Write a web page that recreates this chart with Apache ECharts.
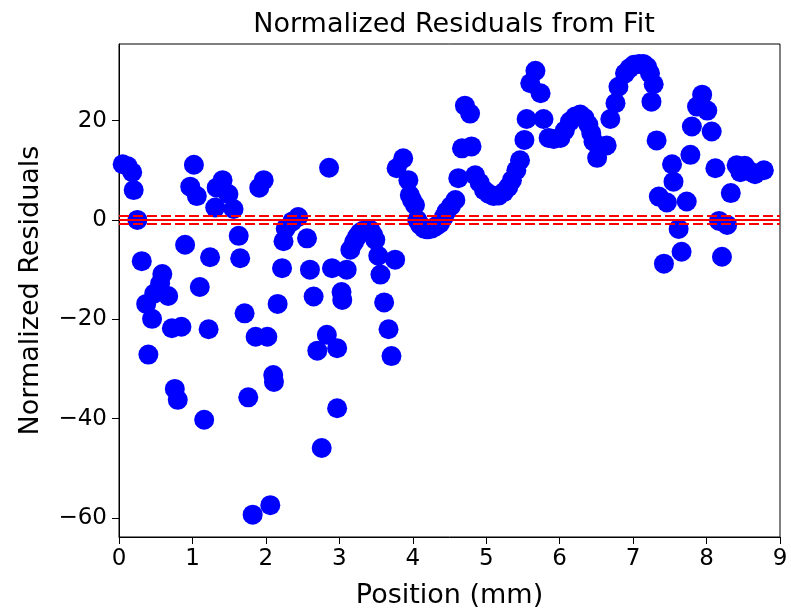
<!DOCTYPE html>
<html>
<head>
<meta charset="utf-8">
<script src="https://cdn.jsdelivr.net/npm/echarts@6/dist/echarts.min.js"></script>
<style>html,body{margin:0;padding:0;background:#fff;}#chart{width:791px;height:610px;}</style>
</head>
<body>
<div id="chart"></div>
<script>
var positionMm = [0.05,0.12,0.18,0.20,0.25,0.31,0.37,0.40,0.45,0.48,0.56,0.59,0.67,0.72,0.76,0.80,0.85,0.90,0.97,1.02,1.06,1.10,1.16,1.22,1.24,1.31,1.33,1.41,1.49,1.56,1.63,1.65,1.71,1.76,1.82,1.86,1.91,1.97,2.02,2.06,2.10,2.11,2.16,2.22,2.24,2.27,2.36,2.44,2.56,2.60,2.65,2.70,2.76,2.83,2.86,2.90,2.97,2.97,3.03,3.04,3.10,3.15,3.20,3.24,3.28,3.32,3.37,3.42,3.46,3.49,3.53,3.56,3.61,3.67,3.71,3.76,3.78,3.87,3.94,3.96,3.99,4.03,4.06,4.10,4.15,4.20,4.26,4.31,4.37,4.42,4.46,4.52,4.58,4.62,4.67,4.71,4.78,4.80,4.85,4.91,4.97,5.03,5.10,5.17,5.24,5.30,5.35,5.41,5.46,5.52,5.55,5.60,5.67,5.74,5.78,5.85,5.92,6.01,6.07,6.14,6.21,6.28,6.34,6.39,6.43,6.46,6.51,6.64,6.69,6.76,6.80,6.89,6.95,7.01,7.08,7.14,7.19,7.23,7.25,7.28,7.32,7.35,7.42,7.46,7.53,7.55,7.62,7.66,7.73,7.78,7.80,7.87,7.94,8.01,8.07,8.12,8.17,8.21,8.28,8.33,8.41,8.46,8.52,8.60,8.66,8.78];
var residuals = [11.2,10.8,9.6,6.0,0.0,-8.3,-16.9,-27.1,-19.9,-14.8,-12.8,-10.9,-15.3,-21.8,-34.0,-36.2,-21.5,-5.0,6.7,11.1,4.8,-13.5,-40.2,-22.0,-7.5,2.5,6.5,8.0,5.2,2.2,-3.2,-7.7,-18.8,-35.7,-59.3,-23.5,6.5,8.0,-23.5,-57.4,-31.2,-32.6,-16.9,-9.7,-4.3,-1.7,-0.3,0.6,-3.7,-10.0,-15.4,-26.3,-45.9,-23.1,10.5,-9.7,-25.8,-37.9,-14.5,-16.1,-10.0,-6.0,-4.5,-3.4,-2.6,-2.2,-2.0,-2.0,-3.0,-4.0,-7.2,-11.0,-16.6,-22.0,-27.4,-8.0,10.4,12.4,8.0,5.0,4.0,3.0,0.0,-1.0,-1.7,-1.9,-1.7,-1.3,-0.7,0.5,1.7,2.8,4.0,8.4,14.4,23.0,21.4,14.8,9.0,7.5,6.0,5.3,4.8,4.9,5.6,6.6,8.0,10.0,12.0,16.1,20.3,27.5,30.0,25.5,20.3,16.5,16.3,16.5,18.0,19.8,20.8,21.2,20.5,19.2,17.5,15.8,12.5,15.0,20.3,23.5,26.8,29.5,30.5,31.2,31.4,31.4,30.8,29.5,23.8,27.3,16.0,4.7,-8.8,3.5,11.2,7.7,-1.8,-6.4,3.7,13.1,18.8,22.8,25.2,22.0,17.8,10.4,-0.2,-7.4,-1.0,5.4,11.0,9.6,10.9,9.7,9.2,10.0];
var yTickValues = [-60,-40,-20,0,20];
var xTickValues = [0,1,2,3,4,5,6,7,8,9];
var zeroLine = 0;
var bandLines = [-0.85, 0.85];

var points = positionMm.map(function(x,i){return [x, residuals[i]];});
function fmtMinus(v){ v = Number(v); return v < 0 ? '\u2212' + Math.abs(v) : String(v); }
var FONT = 'DejaVu Sans';

var chart = echarts.init(document.getElementById('chart'), null, {renderer:'canvas'});
chart.setOption({
  animation: false,
  backgroundColor: '#fff',
  title: {
    text: 'Normalized Residuals from Fit',
    left: 449, top: 6, textAlign: 'center',
    textStyle: {fontFamily: FONT, fontSize: 27, fontWeight: 'normal', color: '#000'}
  },
  grid: {left: 119, right: 11, top: 44, bottom: 73, show: true, borderColor: '#000', borderWidth: 1, containLabel: false, outerBoundsMode: 'none'},
  xAxis: {
    type: 'value', min: xTickValues[0], max: xTickValues[xTickValues.length-1], interval: 1,
    name: 'Position (mm)', nameLocation: 'middle', nameGap: 45,
    nameTextStyle: {fontFamily: FONT, fontSize: 27, color: '#000'},
    axisLine: {show: true, onZero: false, lineStyle: {color: '#000', width: 1}},
    axisTick: {show: true, inside: false, length: 7, lineStyle: {color: '#000', width: 1}},
    axisLabel: {fontFamily: FONT, fontSize: 23, color: '#000', margin: 11, formatter: fmtMinus},
    splitLine: {show: false}
  },
  yAxis: {
    type: 'value', min: -63.8, max: 35.4,
    name: 'Normalized Residuals', nameLocation: 'middle', nameGap: 75, nameRotate: 90,
    nameTextStyle: {fontFamily: FONT, fontSize: 27, color: '#000'},
    axisLine: {show: true, onZero: false, lineStyle: {color: '#000', width: 1}},
    axisTick: {show: true, inside: false, length: 7, customValues: yTickValues, lineStyle: {color: '#000', width: 1}},
    axisLabel: {fontFamily: FONT, fontSize: 23, color: '#000', margin: 12, customValues: yTickValues, formatter: fmtMinus},
    splitLine: {show: false}
  },
  series: [
    {
      type: 'scatter', data: points, symbol: 'circle', symbolSize: 20, z: 2,
      itemStyle: {color: '#0000ff', opacity: 1}
    },
    {
      type: 'scatter', data: [], z: 5, silent: true,
      markLine: {
        silent: true, symbol: ['none','none'], label: {show: false}, animation: false,
        data: [
          {yAxis: zeroLine, lineStyle: {color: '#ff0000', width: 2, type: 'solid'}},
          {yAxis: bandLines[0], lineStyle: {color: '#ff0000', width: 2, type: [10,4]}},
          {yAxis: bandLines[1], lineStyle: {color: '#ff0000', width: 2, type: [10,4]}}
        ]
      }
    }
  ]
});
</script>
</body>
</html>
